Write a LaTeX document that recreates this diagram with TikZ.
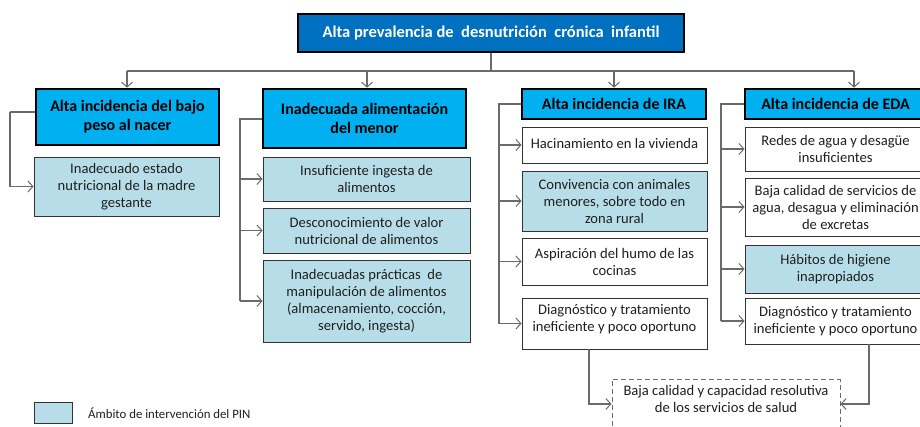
\documentclass[tikz,border=0pt]{standalone}
\usepackage{fontspec}
\setmainfont{Carlito}
\usetikzlibrary{arrows.meta}
\definecolor{topblue}{HTML}{0070C0}
\definecolor{headblue}{HTML}{00B0F0}
\definecolor{lightb}{HTML}{B7DEE8}
\definecolor{conngray}{HTML}{6A6A6A}
\definecolor{txt}{HTML}{1F1F1F}
\tikzset{
  topbox/.style={draw=black, line width=2.6pt, fill=topblue, text=white, inner sep=0pt, align=center,
    font=\bfseries\fontsize{16.5}{19}\selectfont},
  headbox/.style={draw=black, line width=2.6pt, fill=headblue, text=black, inner sep=0pt, align=center,
    font=\bfseries\fontsize{16}{19}\selectfont},
  lbox/.style={draw=black!80, line width=0.9pt, fill=lightb, text=txt, inner sep=0pt, align=center,
    font=\fontsize{14.6}{17}\selectfont},
  wbox/.style={lbox, fill=white},
  dbox/.style={draw=conngray, dashed, dash pattern=on 5pt off 3pt, line width=1pt, fill=white, text=txt,
    inner xsep=0pt, inner ysep=6pt, align=center, font=\fontsize{14.6}{17}\selectfont},
  conn/.style={draw=conngray, line width=1.1pt, -{Straight Barb[length=5pt,width=11pt,line width=1pt]}},
  plain/.style={draw=conngray, line width=1.1pt},
}
\begin{document}
\begin{tikzpicture}[x=1pt,y=-1pt]
\useasboundingbox (0,0) rectangle (920,427);
\clip (0,0) rectangle (920,427);
% top
\node[topbox, minimum width=386pt, minimum height=38pt] (top) at (491,33) {Alta prevalencia de\ \ desnutrición\ \ crónica\ \ infantil};
% level 1
\node[headbox, minimum width=183pt, minimum height=56pt] (A) at (127.5,117) {Alta incidencia del bajo\\peso al nacer};
\node[headbox, minimum width=203pt, minimum height=59pt] (B) at (364.5,118.5) {Inadecuada alimentación\\del menor};
\node[headbox, minimum width=184pt, minimum height=30pt] (C) at (614,104) {Alta incidencia de IRA};
\node[headbox, minimum width=181pt, minimum height=30pt] (D) at (835.5,104) {Alta incidencia de EDA};
% level 2
\node[lbox, minimum width=185pt, minimum height=59pt] (A1) at (126.5,186.5) {Inadecuado estado\\nutricional de la madre\\gestante};
\node[lbox, minimum width=207pt, minimum height=44pt] (B1) at (366.5,179) {Insuficiente ingesta de\\alimentos};
\node[lbox, minimum width=207pt, minimum height=45pt] (B2) at (366.5,230.5) {Desconocimiento de valor\\nutricional de alimentos};
\node[lbox, minimum width=207pt, minimum height=82pt] (B3) at (366.5,301) {Inadecuadas prácticas\ \ de\\manipulación de alimentos\\(almacenamiento, cocción,\\servido, ingesta)};
\node[wbox, minimum width=185pt, minimum height=36pt] (C1) at (614.5,145) {\raisebox{3pt}{Hacinamiento en la vivienda}};
\node[lbox, minimum width=185pt, minimum height=60pt] (C2) at (614.5,201) {Convivencia con animales\\menores, sobre todo en\\zona rural};
\node[wbox, minimum width=185pt, minimum height=47pt] (C3) at (614.5,261.5) {Aspiración del humo de las\\cocinas};
\node[wbox, minimum width=185pt, minimum height=51pt] (C4) at (614.5,323.5) {Diagnóstico y tratamiento\\ineficiente y poco oportuno\\[-6pt]};
\node[wbox, minimum width=181pt, minimum height=44pt] (D1) at (835.5,149) {Redes de agua y desagüe\\insuficientes};
\node[wbox, minimum width=181pt, minimum height=58pt] (D2) at (835.5,207) {Baja calidad de servicios de\\agua, desagua y eliminación\\de excretas};
\node[lbox, minimum width=181pt, minimum height=48pt] (D3) at (835.5,269) {Hábitos de higiene\\inapropiados};
\node[wbox, minimum width=181pt, minimum height=46pt] (D4) at (835.5,321) {Diagnóstico y tratamiento\\ineficiente y poco oportuno};
\node[dbox, minimum width=228pt, anchor=north] (E) at (726,379) {Baja calidad y capacidad resolutiva\\de los servicios de salud\\\rule{0pt}{30pt}};
% legend
\node[lbox, minimum width=38pt, minimum height=21pt] (L) at (53,412.5) {};
\node[anchor=west, text=txt, font=\fontsize{12.8}{14}\selectfont, inner sep=0pt] (Lt) at (88,413) {Ámbito de intervención del PIN};
% top connectors
\draw[plain] (top.south) -- (491,71);
\draw[plain] (127,71) -- (854,71);
\draw[conn] (127,71) -- (A.north -| 127,0);
\draw[conn] (367,71) -- (B.north -| 367,0);
\draw[conn] (614,71) -- (C.north -| 614,0);
\draw[conn] (854,71) -- (D.north -| 854,0);
% side connectors
\draw[plain] (A.west |- 0,112) -- (10,112);
\draw[conn] (10,112) |- (A1.west);
\draw[plain] (B.west |- 0,119) -- (240,119) -- (240,301);
\draw[conn] (240,179) -- (B1.west);
\draw[conn] (240,230.5) -- (B2.west);
\draw[conn] (240,301) -- (B3.west);
\draw[plain] (C.west) -- (499,104) -- (499,323.5);
\draw[conn] (499,145) -- (C1.west);
\draw[conn] (499,201) -- (C2.west);
\draw[conn] (499,261.5) -- (C3.west);
\draw[conn] (499,323.5) -- (C4.west);
\draw[plain] (D.west) -- (721,104) -- (721,321);
\draw[conn] (721,149) -- (D1.west);
\draw[conn] (721,207) -- (D2.west);
\draw[conn] (721,269) -- (D3.west);
\draw[conn] (721,321) -- (D4.west);
% to E
\draw[conn] (C4.south -| 589,0) |- (E.north west |- 0,404);
\draw[conn] (D4.south -| 869,0) |- (E.north east |- 0,404);
\end{tikzpicture}
\end{document}
